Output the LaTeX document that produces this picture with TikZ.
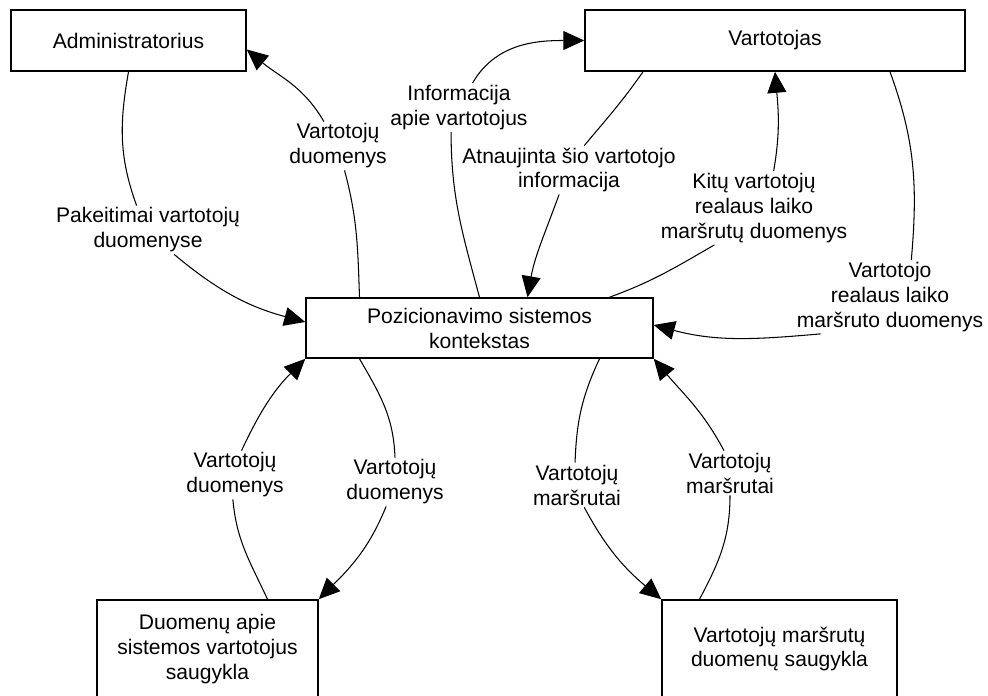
\documentclass[tikz,border=0pt]{standalone}
\usepackage{fontspec}
\setmainfont{Liberation Sans}
\usetikzlibrary{arrows.meta}
\tikzset{
  box/.style={draw,line width=0.9pt,align=center,inner sep=2pt},
  lbl/.style={align=center,inner sep=1pt},
  flow/.style={line width=0.6pt},
  flowto/.style={flow,-{Triangle[length=0.42cm,width=0.38cm]}}
}
\begin{document}
\begin{tikzpicture}[x=0.02cm,y=0.02cm,font=\fontsize{12}{14.2}\selectfont]
\useasboundingbox (0,0) rectangle (988,-696);
% entities
\node[box,minimum width=4.7cm,minimum height=1.22cm] (adm) at (128.5,-40.5) {Administratorius};
\node[box,minimum width=7.6cm,minimum height=1.22cm] (vart) at (775,-40.5) {Vartotojas};
\node[box,minimum width=6.94cm,minimum height=1.2cm] (poz) at (479.5,-328) {Pozicionavimo sistemos\\kontekstas};
\node[box,minimum width=4.42cm,minimum height=1.96cm] (duom) at (207.5,-649) {Duomenų apie\\sistemos vartotojus\\saugykla};
\node[box,minimum width=4.7cm,minimum height=1.96cm] (mars) at (779.5,-649) {Vartotojų maršrutų\\duomenų saugykla};
% flow labels
\node[lbl] (l1) at (148,-230) {Pakeitimai vartotojų\\duomenyse};
\node[lbl] (l2) at (338,-146) {Vartotojų\\duomenys};
\node[lbl] (l3) at (459,-107.5) {Informacija\\apie vartotojus};
\node[lbl] (l4) at (569,-170) {Atnaujinta šio vartotojo\\informacija};
\node[lbl] (l5) at (754,-208) {Kitų vartotojų\\realaus laiko\\maršrutų duomenys};
\node[lbl] (l6) at (890,-297) {Vartotojo\\realaus laiko\\maršruto duomenys};
\node[lbl] (l7) at (235,-475) {Vartotojų\\duomenys};
\node[lbl] (l8) at (395,-482) {Vartotojų\\duomenys};
\node[lbl] (l9) at (577,-485) {Vartotojų\\maršrutai};
\node[lbl] (l10) at (730,-473) {Vartotojų\\maršrutai};
% flows, top
\draw[flow] (adm.south) to[out=-100,in=110] (l1.115);
\draw[flowto] (l1.-43) to[out=-40,in=165] ([shift={(0,6)}]poz.west);
\draw[flow] ([shift={(-120,0)}]poz.north) to[out=92,in=-75] (l2.-75);
\draw[flowto] (l2.120) to[out=120,in=-40] ([shift={(0,-9)}]adm.east);
\draw[flow] (poz.north) to[out=105,in=-90] (l3.-108);
\draw[flowto] (l3.61) to[out=60,in=180] (vart.west);
\draw[flow] ([shift={(-132,0)}]vart.south) to[out=-125,in=50] (l4.58);
\draw[flowto] (l4.-112) to[out=-110,in=80] ([shift={(48,0)}]poz.north);
\draw[flow] ([shift={(130,0)}]poz.north) to[out=20,in=-150] (l5.-137);
\draw[flowto] (l5.62) to[out=80,in=-85] (vart.south);
\draw[flow] ([shift={(115,0)}]vart.south) to[out=-70,in=85] (l6.60);
\draw[flowto] (l6.-152) to[out=185,in=-15] ([shift={(0,3)}]poz.east);
% flows, bottom
\draw[flow] ([shift={(60,0)}]duom.north) to[out=115,in=-85] (l7.-95);
\draw[flowto] (l7.75) to[out=65,in=-135] (poz.south west);
\draw[flow] ([shift={(-120,0)}]poz.south) to[out=-60,in=92] (l8.north);
\draw[flowto] (l8.-110) to[out=-112,in=45] (duom.north east);
\draw[flow] ([shift={(120,0)}]poz.south) to[out=-115,in=88] (l9.95);
\draw[flowto] (l9.-72) to[out=-62,in=140] (mars.north west);
\draw[flow] ([shift={(-80,0)}]mars.north) to[out=62,in=-90] (l10.south);
\draw[flowto] (l10.105) to[out=118,in=-50] (poz.south east);
\end{tikzpicture}
\end{document}
